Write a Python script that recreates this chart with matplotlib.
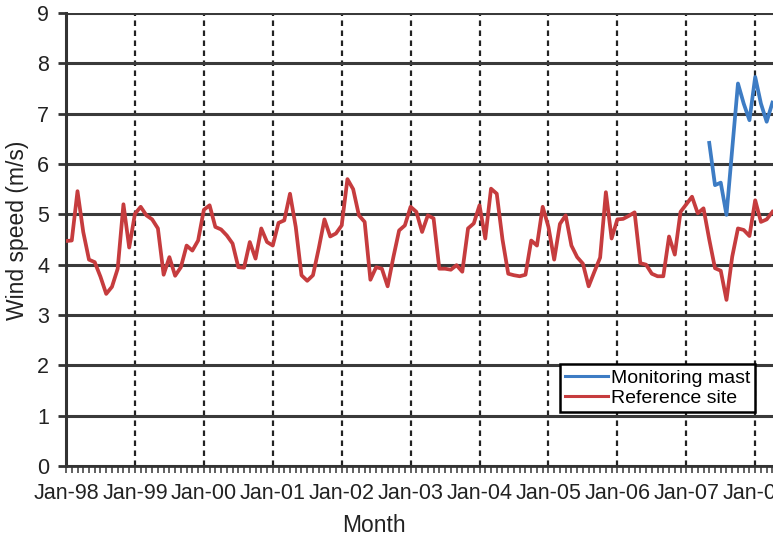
import matplotlib.pyplot as plt
import numpy as np

plt.rcParams['font.family'] = ['Liberation Sans', 'DejaVu Sans']

# monthly mean wind speed, Jan-98 .. Apr-08
ref_site = [4.47, 4.48, 5.46, 4.65, 4.10, 4.05, 3.76, 3.42, 3.56, 3.92, 5.20, 4.34,  # 1998
            5.01, 5.15, 4.98, 4.90, 4.72, 3.80, 4.15, 3.78, 3.95, 4.38, 4.28, 4.48,  # 1999
            5.09, 5.18, 4.75, 4.70, 4.58, 4.42, 3.95, 3.94, 4.45, 4.12, 4.72, 4.45,  # 2000
            4.38, 4.83, 4.88, 5.41, 4.75, 3.79, 3.68, 3.79, 4.32, 4.90, 4.56, 4.62,  # 2001
            4.78, 5.70, 5.50, 4.98, 4.85, 3.70, 3.95, 3.92, 3.57, 4.15, 4.68, 4.78,  # 2002
            5.15, 5.05, 4.65, 4.98, 4.92, 3.92, 3.92, 3.90, 3.99, 3.86, 4.72, 4.82,  # 2003
            5.18, 4.52, 5.51, 5.41, 4.50, 3.82, 3.79, 3.77, 3.80, 4.48, 4.38, 5.15,  # 2004
            4.75, 4.10, 4.81, 4.98, 4.38, 4.15, 4.02, 3.57, 3.86, 4.14, 5.44, 4.52,  # 2005
            4.90, 4.91, 4.97, 5.04, 4.03, 4.00, 3.82, 3.77, 3.77, 4.56, 4.20, 5.05,  # 2006
            5.20, 5.35, 5.02, 5.12, 4.50, 3.93, 3.88, 3.30, 4.16, 4.72, 4.69, 4.57,  # 2007
            5.28, 4.85, 4.90, 5.05]                                                  # 2008
mast_start = 112  # May-07
mast = [6.42, 5.58, 5.63, 4.99, 6.30, 7.60, 7.20, 6.87, 7.73, 7.20, 6.84, 7.22]

year_labels = ['Jan-98', 'Jan-99', 'Jan-00', 'Jan-01', 'Jan-02', 'Jan-03',
               'Jan-04', 'Jan-05', 'Jan-06', 'Jan-07', 'Jan-08']

months = np.arange(len(ref_site))
mast_months = np.arange(mast_start, mast_start + len(mast))

fig = plt.figure(figsize=(7.73, 5.36), dpi=100)
ax = fig.add_axes([0.0854, 0.1306, 0.9146, 0.8451])

ax.plot(mast_months, mast, color='#3d7cc4', lw=2.7, label='Monitoring mast', zorder=3)
ax.plot(months, ref_site, color='#c63c3e', lw=2.7, label='Reference site', zorder=3)

ax.set_xlim(0, 123.1)
ax.set_ylim(0, 9)
ax.set_xticks(np.arange(0, 121, 12), labels=year_labels)
ax.set_xticks(np.arange(0, 124), minor=True)
ax.set_yticks(np.arange(0, 10))

# horizontal solid grid, vertical dashed grid at every January
ax.grid(axis='y', which='major', color='#3a3a3a', lw=2.2, ls='-')
ax.grid(axis='x', which='major', color='#222222', lw=1.6, ls=(0, (2.5, 2)))
ax.set_axisbelow(True)

for s in ['top', 'right']:
    ax.spines[s].set_visible(False)
ax.spines['left'].set_linewidth(2.2)
ax.spines['left'].set_color('#333333')
ax.spines['bottom'].set_linewidth(2)
ax.spines['bottom'].set_color('#333333')

ax.tick_params(axis='y', length=6, width=2, color='#333333', labelsize=15.5,
               pad=6, labelcolor='#222222')
ax.tick_params(axis='x', which='both', length=5, width=1.3, color='#555555',
               labelsize=15.5, pad=7, labelcolor='#222222')

ax.set_ylabel('Wind speed (m/s)', fontsize=16.5, color='#222222')
ax.yaxis.set_label_coords(-0.052, 0.52)
ax.set_xlabel('Month', fontsize=16.5, color='#222222')
ax.xaxis.set_label_coords(0.436, -0.105)

leg = ax.legend(loc='upper right', bbox_to_anchor=(0.9745, 0.225), fontsize=14,
                fancybox=False, framealpha=1, edgecolor='black', borderpad=0.25,
                labelspacing=0.15, handlelength=2.2, handletextpad=0.15, borderaxespad=0)
leg.get_frame().set_linewidth(1.8)
for line in leg.get_lines():
    line.set_linewidth(2.2)

fig.savefig('out.png', dpi=100)
